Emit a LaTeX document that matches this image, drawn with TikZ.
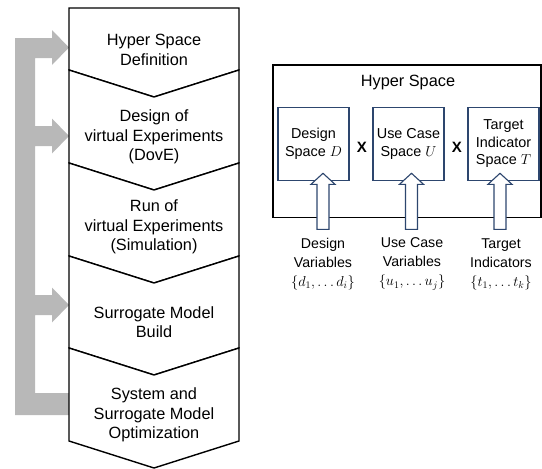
\documentclass[tikz,border=0pt]{standalone}
\usepackage{fontspec}
\setmainfont{Liberation Sans}
\usetikzlibrary{calc}
\definecolor{navy}{RGB}{45,70,110}
\definecolor{fbgray}{RGB}{184,184,184}
\begin{document}
\begin{tikzpicture}[x=1pt,y=-1pt,
  steptext/.style={inner sep=0pt,align=center,font=\fontsize{16.3}{19.3}\selectfont},
  stepshape/.style={draw=black,line width=1.4pt,fill=white},
  spacebox/.style={draw=navy,line width=1.1pt,minimum width=71pt,minimum height=73.5pt,inner sep=0pt,align=center,font=\fontsize{14.4}{17.5}\selectfont},
  hollow/.style={draw=navy,line width=1.1pt,fill=white},
  varlabel/.style={inner sep=0pt,align=center,font=\fontsize{14.2}{19}\selectfont},
  timesmark/.style={inner sep=0pt,font=\fontsize{15}{18}\selectfont\bfseries}]
\useasboundingbox (0,0) rectangle (542,469);
% feedback arrow
\fill[fbgray] (15,415) -- (15,38) -- (52,38) -- (52,30) -- (69,47.5) -- (52,65) -- (52,58) -- (35,58)
  -- (35,126) -- (52,126) -- (52,118.5) -- (69,136) -- (52,153.5) -- (52,146) -- (35,146)
  -- (35,295) -- (52,295) -- (52,287.5) -- (69,305) -- (52,322.5) -- (52,315) -- (35,315)
  -- (35,393) -- (69,393) -- (69,415) -- cycle;
% process chevrons
\draw[stepshape] (69,8) -- (239,8) -- (239,70) -- (154,97) -- (69,70) -- cycle;
\foreach \t/\b in {70/163,163/256,256/348,348/441}{
  \draw[stepshape] (69,\t) -- (154,\t+27) -- (239,\t) -- (239,\b) -- (154,\b+27) -- (69,\b) -- cycle;
}
\node[steptext] (s1) at (154,50) {Hyper Space\\Definition};
\node[steptext] (s2) at (154,137) {Design of\\virtual Experiments\\(DovE)};
\node[steptext] (s3) at (154,227) {Run of\\virtual Experiments\\(Simulation)};
\node[steptext] (s4) at (154,322) {Surrogate Model\\Build};
\node[steptext] (s5) at (154,415) {System and\\Surrogate Model\\Optimization};
% hyper space
\draw[black,line width=1.2pt] (273,65) rectangle (541,217.5);
\node[inner sep=0pt,font=\fontsize{16.3}{19}\selectfont] (hs) at (408,82) {Hyper Space};
\node[spacebox] (D) at (313.5,144) {Design\\Space $D$};
\node[spacebox] (U) at (408.5,144) {Use Case\\Space $U$};
\node[spacebox] (T) at (503.5,144) {Target\\Indicator\\Space $T$};
\node[timesmark] (x1) at (362,147) {X};
\node[timesmark] (x2) at (457,147) {X};
% labels
\node[varlabel] (ld) at (323,264) {Design\\Variables\\$\{d_1,\ldots d_i\}$};
\node[varlabel] (lu) at (412,264) {Use Case\\Variables\\$\{u_1,\ldots u_j\}$};
\node[varlabel] (lt) at (501,264) {Target\\Indicators\\$\{t_1,\ldots t_k\}$};
% hollow arrows from labels up to boxes
\foreach \lab/\bx/\dx in {ld/D/9.5,lu/U/3,lt/T/-3.5}{
  \coordinate (tip) at ($(\bx.south)+(\dx,-8)$);
  \draw[hollow] (tip) -- ++(12,11) -- ++(-6,0) -- ++(0,45) -- ++(-12,0) -- ++(0,-45) -- ++(-6,0) -- cycle;
}
\end{tikzpicture}
\end{document}
